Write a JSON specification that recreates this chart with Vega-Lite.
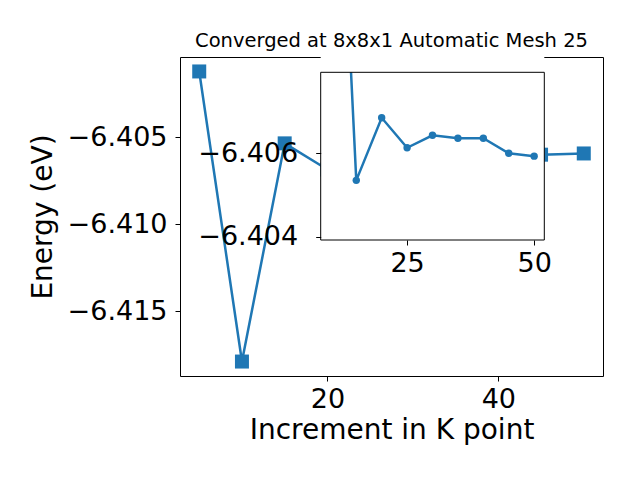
{
  "$schema": "https://vega.github.io/schema/vega-lite/v6.json",
  "width": 423,
  "height": 319,
  "autosize": "none",
  "padding": {"left": 180, "top": 57, "right": 37, "bottom": 104},
  "background": "white",
  "title": {
    "text": "Converged at 8x8x1 Automatic Mesh 25",
    "font": "DejaVu Sans",
    "fontSize": 19.5,
    "fontWeight": "normal",
    "color": "black",
    "anchor": "middle",
    "offset": 6
  },
  "config": {
    "view": {"stroke": "black", "strokeWidth": 1},
    "axis": {
      "domain": false,
      "grid": false,
      "tickColor": "black",
      "tickWidth": 1,
      "tickSize": 5,
      "labelFont": "DejaVu Sans",
      "labelFontSize": 27,
      "labelColor": "black",
      "labelFlush": false,
      "labelOverlap": false,
      "labelBound": false,
      "titleFont": "DejaVu Sans",
      "titleFontSize": 28,
      "titleFontWeight": "normal",
      "titleColor": "black"
    }
  },
  "datasets": {
    "main": [
      {"k": 5, "E": -6.40122},
      {"k": 10, "E": -6.41788},
      {"k": 15, "E": -6.40535},
      {"k": 20, "E": -6.40685},
      {"k": 25, "E": -6.40613},
      {"k": 30, "E": -6.40643},
      {"k": 35, "E": -6.40636},
      {"k": 40, "E": -6.40636},
      {"k": 45, "E": -6.40600},
      {"k": 50, "E": -6.40593}
    ],
    "inset": [
      {"k": 10, "E": -6.41788},
      {"k": 15, "E": -6.40535},
      {"k": 20, "E": -6.40685},
      {"k": 25, "E": -6.40613},
      {"k": 30, "E": -6.40643},
      {"k": 35, "E": -6.40636},
      {"k": 40, "E": -6.40636},
      {"k": 45, "E": -6.40600},
      {"k": 50, "E": -6.40593}
    ],
    "box": [{"k": 8, "k2": 52, "E": -6.40794, "E2": -6.40392}],
    "cover": [{"k": 8, "k2": 52, "E": -6.4200, "E2": -6.40794}]
  },
  "layer": [
    {
      "data": {"name": "main"},
      "mark": {
        "type": "line",
        "color": "#1f77b4",
        "strokeWidth": 2.5,
        "point": {"shape": "square", "size": 196, "filled": true, "color": "#1f77b4", "opacity": 1}
      },
      "encoding": {
        "x": {
          "field": "k", "type": "quantitative",
          "scale": {"domain": [2.75, 52.25], "nice": false, "zero": false},
          "axis": {"orient": "bottom", "values": [20, 40], "title": "Increment in K point", "labelPadding": 5, "titlePadding": 4}
        },
        "y": {
          "field": "E", "type": "quantitative",
          "scale": {"domain": [-6.41871, -6.40039], "nice": false, "zero": false},
          "axis": {"orient": "left", "values": [-6.415, -6.41, -6.405], "title": "Energy (eV)", "labelPadding": 8, "titlePadding": 10,
                   "labelExpr": "replace(format(datum.value, '.3f'), '-', '\u2212')"}
        }
      }
    },
    {
      "encoding": {
        "x": {
          "field": "k", "type": "quantitative",
          "scale": {"domain": [8, 52], "range": [140.7, 364.3], "nice": false, "zero": false},
          "axis": {"orient": "bottom", "offset": -136, "values": [25, 50], "title": null, "labelPadding": 5, "zindex": 1}
        },
        "y": {
          "field": "E", "type": "quantitative",
          "scale": {"domain": [-6.40794, -6.40392], "range": [15.3, 183], "nice": false, "zero": false},
          "axis": {"orient": "left", "offset": -140.7, "values": [-6.406, -6.404], "title": null, "labelPadding": 18, "zindex": 1,
                   "labelExpr": "replace(format(datum.value, '.3f'), '-', '\u2212')"}
        }
      },
      "layer": [
        {
          "data": {"name": "box"},
          "mark": {"type": "rect", "fill": "white", "strokeWidth": 0},
          "encoding": {"x2": {"field": "k2"}, "y2": {"field": "E2"}}
        },
        {
          "data": {"name": "inset"},
          "mark": {
            "type": "line",
            "color": "#1f77b4",
            "strokeWidth": 2.5,
            "clip": true,
            "point": {"shape": "circle", "size": 55, "filled": true, "color": "#1f77b4", "opacity": 1, "clip": true}
          }
        },
        {
          "data": {"name": "cover"},
          "mark": {"type": "rect", "fill": "white", "strokeWidth": 0, "clip": true},
          "encoding": {"x2": {"field": "k2"}, "y2": {"field": "E2"}}
        },
        {
          "data": {"name": "box"},
          "mark": {"type": "rect", "fillOpacity": 0, "stroke": "black", "strokeWidth": 1},
          "encoding": {"x2": {"field": "k2"}, "y2": {"field": "E2"}}
        }
      ]
    }
  ],
  "resolve": {
    "scale": {"x": "independent", "y": "independent"},
    "axis": {"x": "independent", "y": "independent"}
  }
}
